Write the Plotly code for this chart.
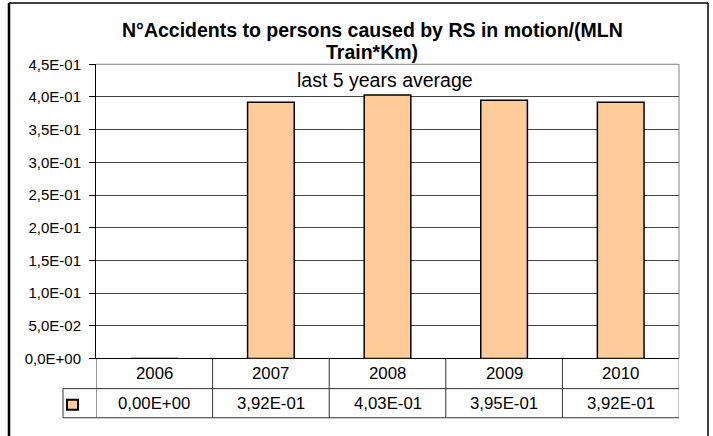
import plotly.graph_objects as go

# ---------------------------------------------------------------------------
# Data
# ---------------------------------------------------------------------------
years = ["2006", "2007", "2008", "2009", "2010"]
accidents_rate = [0.0, 0.392, 0.403, 0.395, 0.392]
value_labels = ["0,00E+00", "3,92E-01", "4,03E-01", "3,95E-01", "3,92E-01"]
y_tickvals = [0.0, 0.05, 0.10, 0.15, 0.20, 0.25, 0.30, 0.35, 0.40, 0.45]
y_ticktext = ["0,0E+00", "5,0E-02", "1,0E-01", "1,5E-01", "2,0E-01",
              "2,5E-01", "3,0E-01", "3,5E-01", "4,0E-01", "4,5E-01"]
title_lines = ["N°Accidents to persons caused by RS in motion/(MLN", "Train*Km)"]
avg_label = "last 5 years average"

W = 713
FONT = "Arial, Liberation Sans, sans-serif"
BAR_FILL = "#FFCC99"

# layout positions as measured on the reference (pixels from top-left)
px_l, px_r = 96, 679
py_t, py_b = 64, 357
row1_b, row2_b = 387, 416
key_l = 63

# the screenshot comes out squeezed vertically (y_shot ~ 9.1 + 0.9586*y),
# so the figure is made taller, lifted by LIFT px, and positions pre-compensated
SQ_OFF, SQ_K = 9.1, 0.9586
LIFT = 9.5
HF = 455


def fx(p):
    return p / W


def fy(p):
    p = (p - SQ_OFF) / SQ_K + LIFT
    return 1 - p / HF


fig = go.Figure()
fig.add_trace(go.Bar(
    x=years, y=accidents_rate,
    width=0.4,
    marker=dict(color=BAR_FILL, line=dict(color="black", width=1.5)),
    showlegend=False,
))

shapes = []
line_col = "#333333"


def hline(x0, x1, y, col=line_col, w=1):
    shapes.append(dict(type="line", xref="paper", yref="paper",
                       x0=fx(x0), x1=fx(x1), y0=fy(y), y1=fy(y),
                       line=dict(color=col, width=w)))


def vline(x, y0, y1, col=line_col, w=1):
    shapes.append(dict(type="line", xref="paper", yref="paper",
                       x0=fx(x), x1=fx(x), y0=fy(y0), y1=y1,
                       line=dict(color=col, width=w)))


# table grid
hline(key_l, px_r, row1_b)
hline(key_l, px_r, row2_b)
vline(key_l, row1_b, fy(row2_b))
for i in range(len(years) + 1):
    col = "#808080" if i == len(years) else line_col
    shapes.append(dict(type="line", xref="x", yref="paper",
                       x0=i - 0.5, x1=i - 0.5, y0=fy(py_b), y1=fy(row2_b),
                       line=dict(color=col, width=1)))
# plot area border (top/right gray)
hline(px_l, px_r, py_t, "#808080")
vline(px_r, py_t, fy(py_b), "#808080")
# legend key
shapes.append(dict(type="rect", xref="paper", yref="paper",
                   x0=fx(67), x1=fx(78), y0=fy(408), y1=fy(398),
                   fillcolor=BAR_FILL, line=dict(color="black", width=2)))
# outer frame
vline(9, 3, 0, "black", 2.5)
hline(9, 708, 3, "black", 1.5)
vline(708, 3, 0, "black", 1.5)

annotations = []
for i, (yr, lab) in enumerate(zip(years, value_labels)):
    annotations.append(dict(x=i, xref="x", y=fy((py_b + row1_b) / 2), yref="paper",
                            xanchor="center", yanchor="middle",
                            text=yr, showarrow=False,
                            font=dict(family=FONT, size=16.8, color="black")))
    annotations.append(dict(x=i, xref="x", y=fy((row1_b + row2_b) / 2), yref="paper",
                            xanchor="center", yanchor="middle",
                            text=lab, showarrow=False,
                            font=dict(family=FONT, size=16.8, color="black")))
annotations.append(dict(x=fx(385), xref="paper", y=fy(80), yref="paper",
                        xanchor="center", yanchor="middle",
                        text=avg_label, showarrow=False,
                        font=dict(family=FONT, size=19.5, color="black")))
for line, ypix in zip(title_lines, [30, 52]):
    annotations.append(dict(x=fx(372), xref="paper", y=fy(ypix), yref="paper",
                            xanchor="center", yanchor="middle",
                            text="<b>" + line + "</b>", showarrow=False,
                            font=dict(family=FONT, size=19.5, color="black")))

fig.update_layout(
    width=W, height=HF,
    margin=dict(l=0, r=0, t=0, b=0),
    paper_bgcolor="white", plot_bgcolor="white",
    xaxis=dict(type="category", domain=[fx(px_l), fx(px_r)],
               showticklabels=False, ticks="",
               showgrid=False, showline=False, zeroline=False,
               range=[-0.5, len(years) - 0.5]),
    yaxis=dict(domain=[fy(py_b), fy(py_t)], range=[0, 0.45],
               tickvals=y_tickvals, ticktext=y_ticktext,
               ticks="outside", ticklen=6, tickcolor="black",
               ticklabelstandoff=5,
               showline=True, linecolor="black", linewidth=1,
               showgrid=True, gridcolor="#444444", gridwidth=1,
               zeroline=True, zerolinecolor="black", zerolinewidth=1,
               tickfont=dict(family=FONT, size=15, color="black")),
    shapes=shapes,
    annotations=annotations,
)

pin_js = (
    "document.documentElement.style.margin='0';"
    "document.body.style.margin='0';"
    "document.documentElement.style.overflow='hidden';"
    "var d=document.getElementById('{plot_id}');"
    "d.style.position='fixed';d.style.top='-%spx';d.style.left='0px';" % LIFT
)
fig.write_html("out.html", config={"displayModeBar": False}, post_script=pin_js)
